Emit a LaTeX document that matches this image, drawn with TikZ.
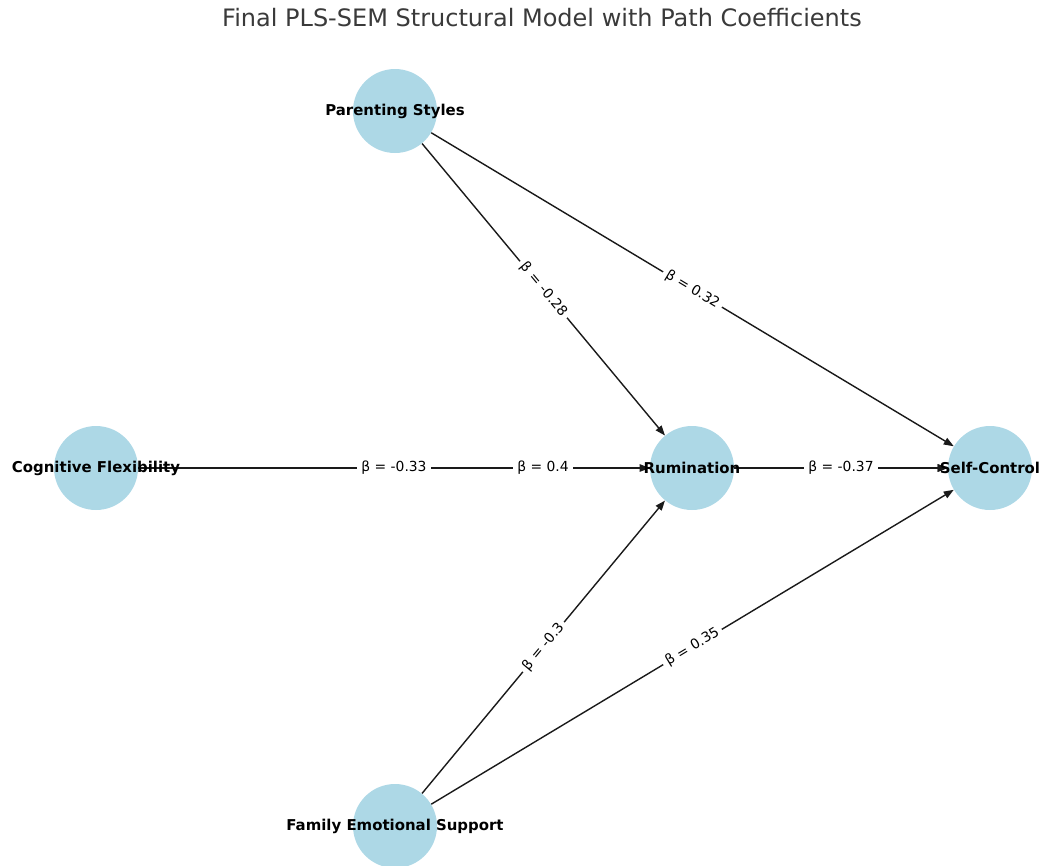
\documentclass[tikz,border=0pt]{standalone}
\usepackage{fontspec}
\setmainfont{DejaVu Sans}
\usetikzlibrary{arrows.meta,backgrounds}
\definecolor{nodeblue}{HTML}{ADD8E6}
\definecolor{titlegray}{HTML}{3A3A3A}
\definecolor{edgeblack}{HTML}{1A1A1A}
\begin{document}
\begin{tikzpicture}[x=0.75pt,y=-0.75pt,
  latent/.style={circle,fill=nodeblue,minimum size=63pt,inner sep=0pt},
  latentlabel/.style={font=\fontsize{11.2}{13}\selectfont\bfseries,text=black,inner sep=0pt},
  path/.style={draw=edgeblack,line width=1.05pt,-{Triangle[length=7.5pt,width=5.5pt]}},
  coef/.style={font=\fontsize{10.4}{12}\selectfont,fill=white,inner xsep=3pt,inner ysep=1pt,sloped,midway}
]
\useasboundingbox (0,0) rectangle (1040,865);

% title
\node[font=\fontsize{18}{21}\selectfont,text=titlegray] (title) at (542,18) {Final PLS-SEM Structural Model with Path Coefficients};

% latent constructs
\node[latent] (ps)  at (395,111) {};
\node[latent] (cf)  at (96,468)  {};
\node[latent] (rum) at (692,468) {};
\node[latent] (sc)  at (990,468) {};
\node[latent] (fes) at (395,826) {};

% structural paths, kept behind the constructs
\begin{pgfonlayer}{background}
\draw[path] (cf)  -- (rum);
\draw[path] (cf)  -- (sc);
\draw[path] (rum) -- (sc);
\draw[path] (ps)  -- (rum);
\draw[path] (ps)  -- (sc);
\draw[path] (fes) -- (rum);
\draw[path] (fes) -- (sc);
\end{pgfonlayer}

% path coefficients, above every path
\path (cf)  -- node[coef] (c1) {β = -0.33} (rum);
\path (cf)  -- node[coef] (c2) {β = 0.4}   (sc);
\path (rum) -- node[coef] (c3) {β = -0.37} (sc);
\path (ps)  -- node[coef] (c4) {β = -0.28} (rum);
\path (ps)  -- node[coef] (c5) {β = 0.32}  (sc);
\path (fes) -- node[coef] (c6) {β = -0.3}  (rum);
\path (fes) -- node[coef] (c7) {β = 0.35}  (sc);

% construct names
\node[latentlabel] (psl)  at (ps)  {Parenting Styles};
\node[latentlabel] (cfl)  at (cf)  {Cognitive Flexibility};
\node[latentlabel] (ruml) at (rum) {Rumination};
\node[latentlabel] (scl)  at (sc)  {Self-Control};
\node[latentlabel] (fesl) at (fes) {Family Emotional Support};
\end{tikzpicture}
\end{document}
